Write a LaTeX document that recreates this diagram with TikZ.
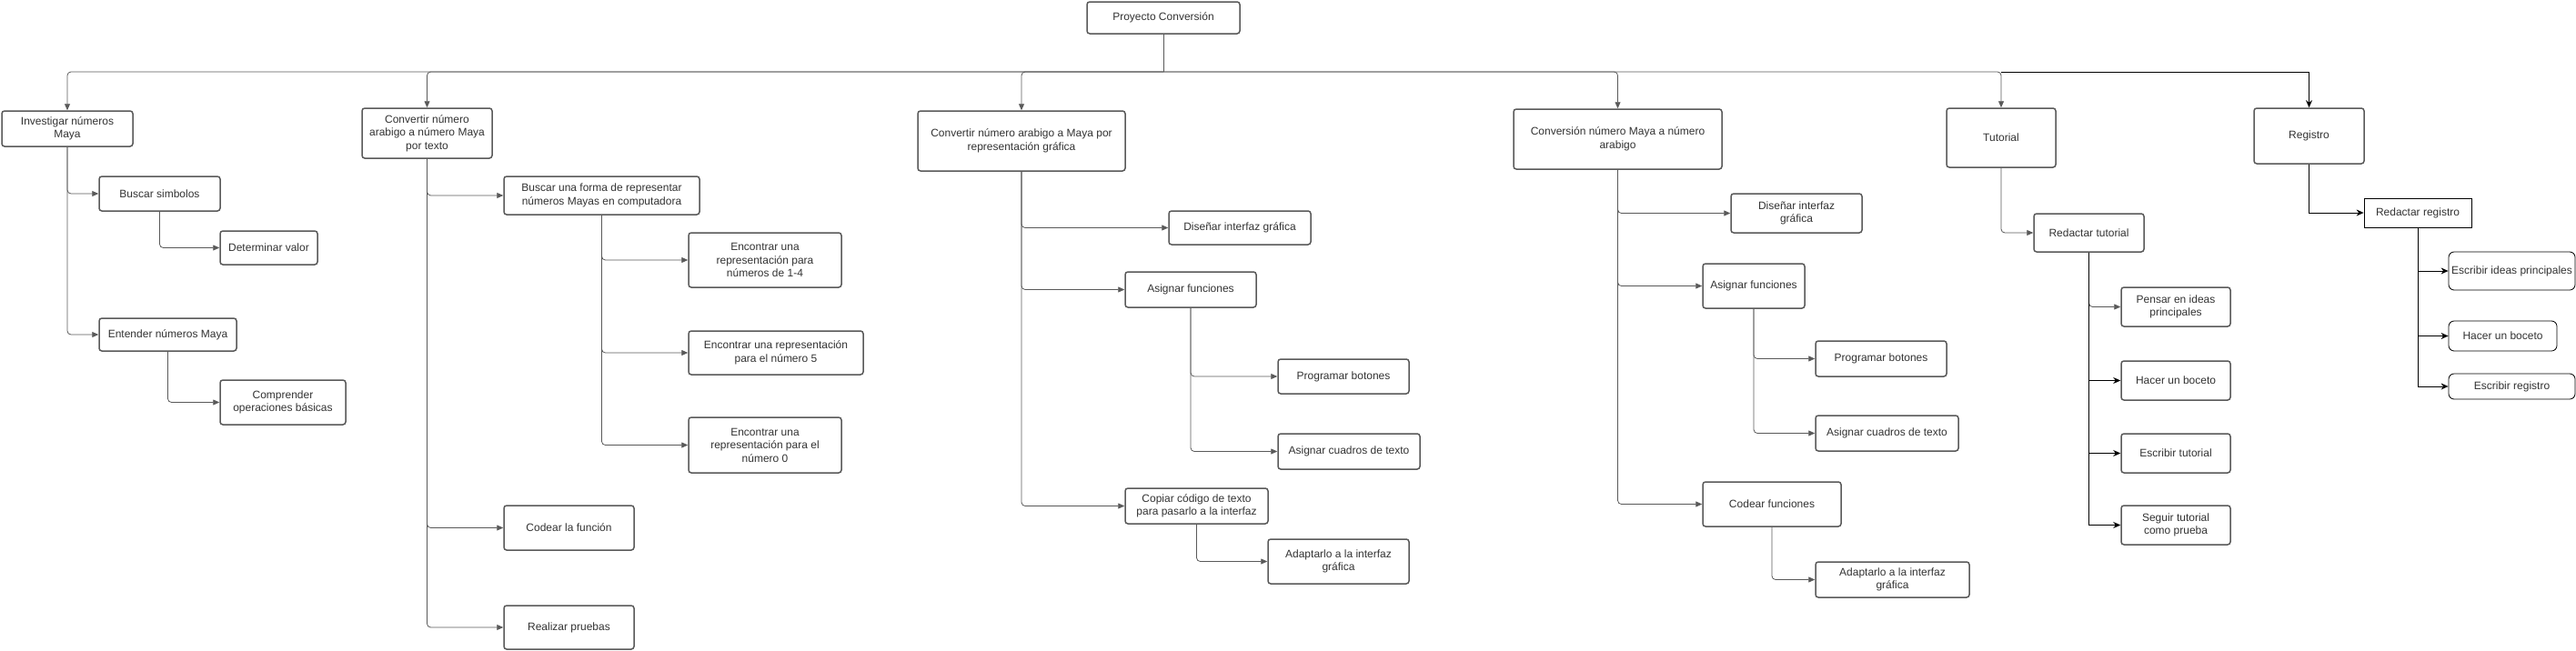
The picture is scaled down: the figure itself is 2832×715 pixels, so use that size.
\documentclass[tikz,border=0pt]{standalone}
\usepackage{fontspec}
\setmainfont{Liberation Sans}
\usetikzlibrary{arrows.meta}

\definecolor{linegray}{HTML}{595959}
\definecolor{textgray}{HTML}{333333}

\begin{document}
\begin{tikzpicture}[x=1pt, y=-1pt,
    box/.style={draw=linegray, line width=1.5pt, rounded corners=3pt, fill=white, align=center,
      inner sep=1pt, text=textgray, font=\fontsize{12}{14.5}\selectfont},
    blkbox/.style={box, draw=black, line width=0.8pt, rounded corners=6pt},
    wh/.style 2 args={minimum width=#1pt, minimum height=#2pt},
    link/.style={draw=linegray, line width=0.8pt, rounded corners=4pt, -{Triangle[length=7pt, width=6pt]}},
    blink/.style={draw=black, line width=1pt, -{Stealth[length=8pt, width=7pt, inset=2.5pt]}}]

    \useasboundingbox (0,0) rectangle (2832,715);

    % Root and first level
    \node[box, wh={168}{35}] (root) at (1279,19.5) {Proyecto Conversión};
    \node[box, wh={144}{39}] (inv) at (74,141.5) {Investigar números\\Maya};
    \node[box, wh={143}{55}] (ctxt) at (469.5,146.5) {Convertir número\\arabigo a número Maya\\por texto};
    \node[box, wh={228}{66}] (cgraf) at (1123,155) {Convertir número arabigo a Maya por\\representación gráfica};
    \node[box, wh={229}{66}] (cmaya) at (1778.5,153) {Conversión número Maya a número\\arabigo};
    \node[box, wh={120}{65}] (tut) at (2200,151.5) {Tutorial};
    \node[box, wh={121}{61}] (reg) at (2538.5,149.5) {Registro};

    % Investigar
    \node[box, wh={133}{38}] (bsim) at (175.5,213) {Buscar simbolos};
    \node[box, wh={107}{37}] (det) at (295.5,272.5) {Determinar valor};
    \node[box, wh={151}{36}] (ent) at (184.5,368) {Entender números Maya};
    \node[box, wh={138}{49}] (comp) at (311,442.5) {Comprender\\operaciones básicas};

    % Convertir por texto
    \node[box, wh={215}{42}] (bforma) at (661.5,215) {Buscar una forma de representar\\números Mayas en computadora};
    \node[box, wh={168}{60}] (enc1) at (841,286) {Encontrar una\\representación para\\números de 1-4};
    \node[box, wh={192}{48}] (enc5) at (853,388) {Encontrar una representación\\para el número 5};
    \node[box, wh={168}{61}] (enc0) at (841,489.5) {Encontrar una\\representación para el\\número 0};
    \node[box, wh={143}{49}] (codf) at (625.5,580.5) {Codear la función};
    \node[box, wh={143}{48}] (prue) at (625.5,690) {Realizar pruebas};

    % Convertir por representacion grafica
    \node[box, wh={156}{37}] (dis) at (1363,250.5) {Diseñar interfaz gráfica};
    \node[box, wh={144}{39}] (asig) at (1309,318.5) {Asignar funciones};
    \node[box, wh={144}{38}] (prog) at (1477,414) {Programar botones};
    \node[box, wh={156}{39}] (cuad) at (1483,496.5) {Asignar cuadros de texto};
    \node[box, wh={157}{39}] (cop) at (1315.5,556.5) {Copiar código de texto\\para pasarlo a la interfaz};
    \node[box, wh={155}{49}] (adap) at (1471.5,617.5) {Adaptarlo a la interfaz\\gráfica};

    % Conversion Maya a arabigo
    \node[box, wh={144}{43}] (disb) at (1975,234.5) {Diseñar interfaz\\gráfica};
    \node[box, wh={112}{49}] (asigb) at (1928,314.5) {Asignar funciones};
    \node[box, wh={144}{39}] (progb) at (2068,394.5) {Programar botones};
    \node[box, wh={157}{39}] (cuadb) at (2074.5,476.5) {Asignar cuadros de texto};
    \node[box, wh={152}{49}] (codb) at (1948,554.5) {Codear funciones};
    \node[box, wh={169}{39}] (adapb) at (2080.5,637.5) {Adaptarlo a la interfaz\\gráfica};

    % Tutorial
    \node[box, wh={121}{42}] (rtut) at (2296.5,256) {Redactar tutorial};
    \node[box, wh={120}{43}] (pens) at (2392,337.5) {Pensar en ideas\\principales};
    \node[box, wh={120}{43}] (bocb) at (2392,418.5) {Hacer un boceto};
    \node[box, wh={120}{43}] (esct) at (2392,498.5) {Escribir tutorial};
    \node[box, wh={120}{43}] (seg) at (2392,577.5) {Seguir tutorial\\como prueba};

    % Registro
    \node[blkbox, rounded corners=0pt, wh={118}{32}] (rreg) at (2658,234) {Redactar registro};
    \node[blkbox, wh={139}{42}] (ideas) at (2761.5,298) {Escribir ideas principales};
    \node[blkbox, wh={119}{33}] (bocr) at (2751.5,369.5) {Hacer un boceto};
    \node[blkbox, wh={139}{28}] (escr) at (2761.5,425) {Escribir registro};

    % Connectors
    \coordinate (bus) at (1279,79);
    \draw[linegray, line width=0.8pt] (root.south) -- (bus);
    \foreach \t in {inv,ctxt,cgraf,cmaya,tut}
      \draw[link] (bus) -| (\t.north);
    \draw[blink] (bus -| tut.north) -| (reg.north);

    \foreach \c in {bsim,ent} \draw[link] (inv.south) |- (\c.west);
    \draw[link] (bsim.south) |- (det.west);
    \draw[link] (ent.south) |- (comp.west);

    \foreach \c in {bforma,codf,prue} \draw[link] (ctxt.south) |- (\c.west);
    \foreach \c in {enc1,enc5,enc0} \draw[link] (bforma.south) |- (\c.west);

    \foreach \c in {dis,asig,cop} \draw[link] (cgraf.south) |- (\c.west);
    \foreach \c in {prog,cuad} \draw[link] (asig.south) |- (\c.west);
    \draw[link] (cop.south) |- (adap.west);

    \foreach \c in {disb,asigb,codb} \draw[link] (cmaya.south) |- (\c.west);
    \foreach \c in {progb,cuadb} \draw[link] (asigb.south) |- (\c.west);
    \draw[link] (codb.south) |- (adapb.west);

    \draw[link] (tut.south) |- (rtut.west);
    \draw[link] (rtut.south) |- (pens.west);
    \foreach \c in {bocb,esct,seg} \draw[blink] (rtut.south) |- (\c.west);

    \draw[blink] (reg.south) |- (rreg.west);
    \foreach \c in {ideas,bocr,escr} \draw[blink] (rreg.south) |- (\c.west);
\end{tikzpicture}
\end{document}
